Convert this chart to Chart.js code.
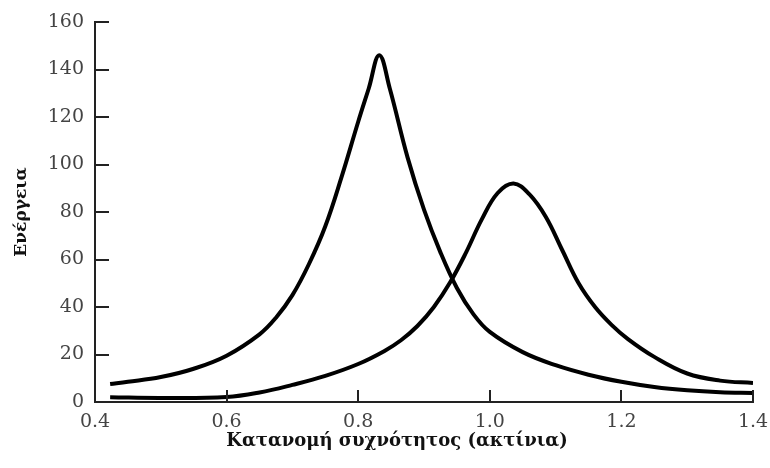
<!DOCTYPE html>
<html>
<head>
<meta charset="utf-8">
<script src="https://cdn.jsdelivr.net/npm/chart.js@4/dist/chart.umd.min.js"></script>
<style>
  html, body { margin: 0; padding: 0; background: #fff; }
  #wrap { width: 770px; height: 468px; }
</style>
</head>
<body>
<div id="wrap"><canvas id="chart"></canvas></div>
<script>
// values
const xTicks = [0.4, 0.6, 0.8, 1.0, 1.2, 1.4];
const yTicks = [0, 20, 40, 60, 80, 100, 120, 140, 160];
const xTitle = "Κατανομή συχνότητος (ακτίνια)";
const yTitle = "Ενέργεια";

// tall resonance curve
const tallX = [0.423, 0.45, 0.5, 0.55, 0.6, 0.65, 0.675, 0.7, 0.725, 0.75, 0.775, 0.8, 0.816, 0.832, 0.848, 0.875, 0.9, 0.925, 0.95, 0.975, 1.0, 1.05, 1.1, 1.15, 1.2, 1.25, 1.3, 1.35, 1.4];
const tallY = [7.6, 8.5, 10.5, 14, 19.5, 28.5, 35.5, 45, 58, 74, 95, 118, 132, 146, 132, 103, 81, 63, 48, 37, 29.5, 21, 15.5, 11.5, 8.5, 6.3, 4.9, 4.1, 3.8];

// lower, wider curve
const lowX = [0.423, 0.5, 0.6, 0.65, 0.7, 0.75, 0.8, 0.84, 0.865, 0.89, 0.915, 0.94, 0.964, 0.988, 1.012, 1.036, 1.06, 1.085, 1.11, 1.135, 1.16, 1.185, 1.21, 1.25, 1.3, 1.35, 1.4];
const lowY = [2, 1.7, 2.1, 4, 7.2, 11, 16, 21.5, 26, 32, 40, 50.5, 63, 77, 88, 92, 87.5, 78, 64, 50, 40, 32.5, 26.5, 19, 12, 9, 8];

const toPoints = (xs, ys) => xs.map((x, i) => ({ x: x, y: ys[i] }));

const serif = "'DejaVu Serif', 'Liberation Serif', serif";
const axisColor = "#222";

// inward tick marks + x title sitting a bit left of centre, as in the scan
const axisExtras = {
  id: "axisExtras",
  afterDraw(chart) {
    const { ctx, scales } = chart;
    const x = scales.x;
    const y = scales.y;
    ctx.save();
    ctx.strokeStyle = axisColor;
    ctx.lineWidth = 2;
    ctx.beginPath();
    x.ticks.forEach((t) => {
      const px = Math.round(x.getPixelForValue(t.value));
      ctx.moveTo(px, x.top);
      ctx.lineTo(px, x.top - 12);
    });
    y.ticks.forEach((t) => {
      const py = Math.round(y.getPixelForValue(t.value));
      ctx.moveTo(y.right, py);
      ctx.lineTo(y.right + 14, py);
    });
    ctx.stroke();

    ctx.fillStyle = "#111";
    ctx.font = "bold 18px " + serif;
    ctx.textAlign = "center";
    ctx.textBaseline = "middle";
    ctx.fillText(xTitle, x.left + (x.right - x.left) * 0.459, x.top + 39);
    ctx.restore();
  },
};

new Chart(document.getElementById("chart"), {
  type: "line",
  data: {
    datasets: [
      {
        data: toPoints(tallX, tallY),
        borderColor: "#000",
        borderWidth: 4,
        pointRadius: 0,
        tension: 0.4,
      },
      {
        data: toPoints(lowX, lowY),
        borderColor: "#000",
        borderWidth: 4,
        pointRadius: 0,
        tension: 0.4,
      },
    ],
  },
  plugins: [axisExtras],
  options: {
    responsive: true,
    maintainAspectRatio: false,
    animation: false,
    layout: { padding: { top: 22, right: 17, left: 0, bottom: 0 } },
    plugins: {
      legend: { display: false },
      tooltip: { enabled: false },
    },
    scales: {
      x: {
        type: "linear",
        min: 0.4,
        max: 1.4,
        afterBuildTicks: (scale) => {
          scale.ticks = xTicks.map((v) => ({ value: v }));
        },
        afterFit: (scale) => {
          scale.height = 66;
          scale.paddingLeft = 0;
          scale.paddingRight = 0;
        },
        border: { color: axisColor, width: 2 },
        grid: { display: false, drawTicks: false },
        ticks: {
          padding: 9,
          color: "#444",
          font: { family: serif, size: 19 },
          maxRotation: 0,
          callback: (v) => v.toFixed(1),
        },
        title: { display: false },
      },
      y: {
        min: 0,
        max: 160,
        afterBuildTicks: (scale) => {
          scale.ticks = yTicks.map((v) => ({ value: v }));
        },
        afterFit: (scale) => {
          scale.width = 95;
          scale.paddingTop = 0;
          scale.paddingBottom = 0;
        },
        border: { color: axisColor, width: 2 },
        grid: { display: false, drawTicks: false },
        ticks: {
          padding: 11,
          color: "#444",
          font: { family: serif, size: 19 },
        },
        title: {
          display: true,
          text: yTitle,
          color: "#111",
          font: { family: serif, size: 17, weight: "bold" },
          padding: { top: 11, bottom: 0 },
        },
      },
    },
  },
});
</script>
</body>
</html>
